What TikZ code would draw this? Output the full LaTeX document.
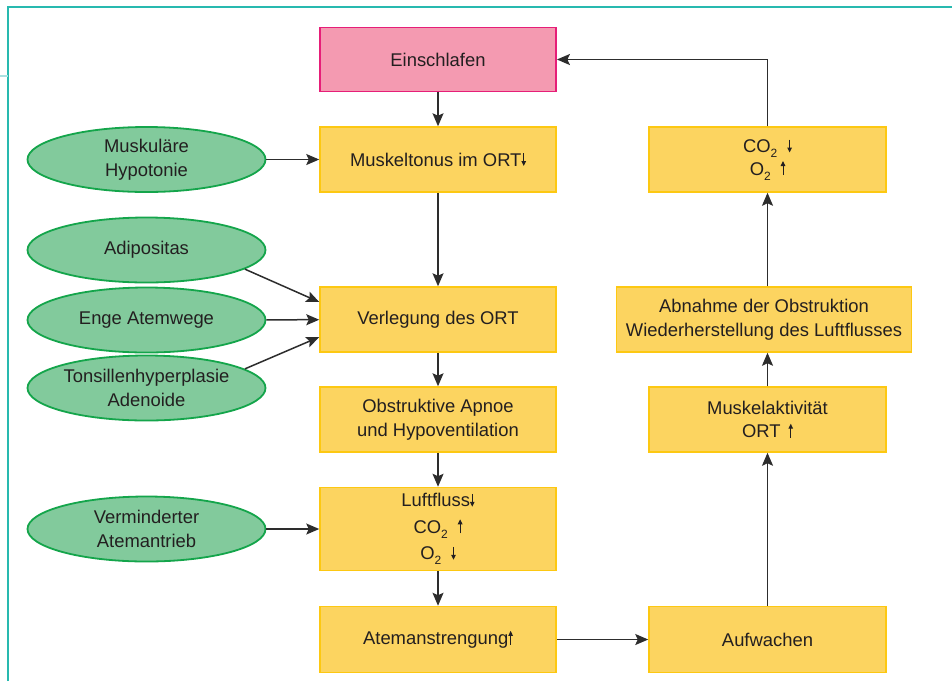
\documentclass[tikz,border=0pt]{standalone}
\usepackage{fontspec}
\setmainfont{Liberation Sans}
\usetikzlibrary{shapes.geometric,arrows.meta}
\definecolor{yfill}{RGB}{252,212,96}
\definecolor{ydraw}{RGB}{253,200,18}
\definecolor{pfill}{RGB}{244,154,177}
\definecolor{pdraw}{RGB}{230,30,120}
\definecolor{gfill}{RGB}{130,202,156}
\definecolor{gdraw}{RGB}{20,165,75}
\definecolor{frame}{RGB}{40,185,175}
\definecolor{frame2}{RGB}{170,225,225}
\definecolor{lin}{RGB}{45,45,45}
\definecolor{txt}{RGB}{35,31,32}
\newcommand\bodyfont{\fontsize{18.4}{23.5}\selectfont}
\newcommand\luftfont{\fontsize{18.4}{26.5}\selectfont}
\newcommand\cofont{\fontsize{18.4}{22.5}\selectfont}
\lineskiplimit=-20pt
\newcommand\sub[1]{\raisebox{-5pt}{\fontsize{12}{12}\selectfont #1}}
\newcommand\dnar{\tikz[baseline=0pt,x=1pt,y=1pt]\draw[txt,line width=1pt,-{Triangle[length=5pt,width=4.5pt]}] (0pt,13pt)--(0pt,0pt);}
\newcommand\upar{\tikz[baseline=0pt,x=1pt,y=1pt]\draw[txt,line width=1pt,-{Triangle[length=5pt,width=4.5pt]}] (0pt,0pt)--(0pt,14pt);}
\begin{document}
\begin{tikzpicture}[x=1pt,y=-1pt,
  every node/.style={text=txt,font=\bodyfont,align=center,inner sep=0pt},
  ybox/.style={rectangle,fill=yfill,draw=ydraw,line width=1.5pt,minimum width=236pt,minimum height=65pt},
  pbox/.style={rectangle,fill=pfill,draw=pdraw,line width=1.8pt,minimum width=236pt,minimum height=64pt},
  gell/.style={ellipse,fill=gfill,draw=gdraw,line width=1.8pt,minimum width=238pt,minimum height=65pt},
  arr/.style={draw=lin,line width=1.5pt,-{Stealth[length=13pt,width=11pt,inset=2.5pt]}}]
\useasboundingbox (0,0) rectangle (952,681);
\draw[frame,line width=2pt] (8,681) -- (8,7) -- (952,7);
\draw[frame2,line width=1.5pt] (0,76) -- (8,76);
% left column
\node[pbox] (ein) at (438,59.5) {Einschlafen};
\node[ybox] (mus) at (438,159.5) {Muskeltonus im ORT\dnar};
\node[ybox] (verl) at (438,319.5) {Verlegung des ORT};
\node[ybox] (obs) at (438,419.5) {Obstruktive Apnoe\\und Hypoventilation};
\node[ybox,minimum height=83pt,font=\luftfont] (luft) at (438,529) {Luftfluss\dnar\\CO\sub{2}\hspace{10pt}\upar\\O\sub{2}\hspace{10pt}\dnar};
\node[ybox,minimum height=66pt] (atem) at (438,639.5) {Atemanstrengung\upar};
% right column
\node[ybox,minimum width=237pt,minimum height=66pt] (auf) at (767.5,639.5) {Aufwachen};
\node[ybox,minimum width=237pt] (mak) at (767.5,419.5) {Muskelaktivit\"at\\ORT\hspace{8pt}\upar};
\node[ybox,minimum width=295pt] (abn) at (764,319.5) {Abnahme der Obstruktion\\Wiederherstellung des Luftflusses};
\node[ybox,minimum width=237pt,font=\cofont] (co) at (767.5,159.5) {CO\sub{2}\hspace{10pt}\dnar\\O\sub{2}\hspace{10pt}\upar};
% ellipses
\node[gell] (hyp) at (146.5,159.5) {Muskul\"are\\Hypotonie};
\node[gell] (adi) at (146.5,250) {Adipositas};
\node[gell] (eng) at (146.5,320) {Enge Atemwege};
\node[gell] (ton) at (146.5,388) {Tonsillenhyperplasie\\Adenoide};
\node[gell] (ver) at (146.5,529) {Verminderter\\Atemantrieb};
% connectors
\draw[arr] (ein) -- (mus);
\draw[arr] (mus) -- (verl);
\draw[arr] (verl) -- (obs);
\draw[arr] (obs) -- (luft);
\draw[arr] (luft) -- (atem);
\draw[arr] (atem) -- (auf);
\draw[arr] (auf) -- (mak);
\draw[arr] (mak.north) -- (mak.north |- abn.south);
\draw[arr] (abn.north -| co.north) -- (co);
\draw[arr] (co.north) |- (ein.east);
\draw[arr] (hyp) -- (mus);
\draw[arr] (adi.-11) -- ([yshift=17.5pt]verl.west);
\draw[arr] (eng) -- (verl);
\draw[arr] (ton.11) -- ([yshift=-17.5pt]verl.west);
\draw[arr] (ver) -- (ver -| luft.west);
\end{tikzpicture}
\end{document}
